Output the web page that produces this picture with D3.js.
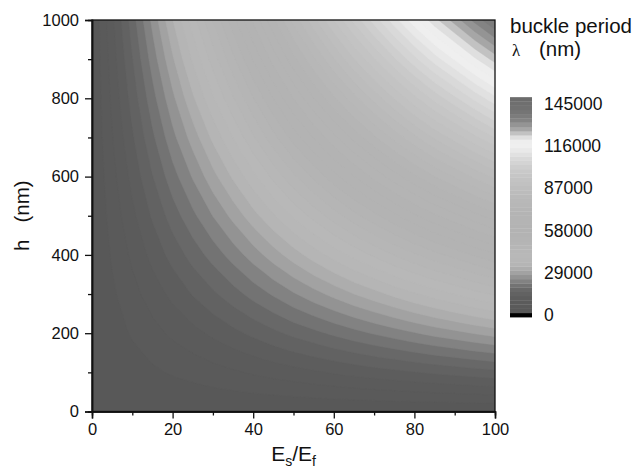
<!DOCTYPE html>
<html>
<head>
<meta charset="utf-8">
<script src="https://cdn.jsdelivr.net/npm/d3@7"></script>
<style>
body { margin: 0; background: #fff; }
text { font-family: "Liberation Sans", Arial, sans-serif; fill: #111; }
</style>
</head>
<body>
<script>
// grid columns (Es/Ef) and rows (film thickness h, nm)
var esRatio = [0, 5, 10, 15, 20, 25, 30, 35, 40, 45, 50, 55, 60, 65, 70, 75, 80, 85, 90, 95, 100];
var thickness = [0, 100, 200, 300, 400, 500, 600, 700, 800, 900, 1000];

// buckle period lambda (nm), one row per thickness
var period = [
    [0, 0, 0, 0, 0, 0, 0, 0, 0, 0, 0, 0, 0, 0, 0, 0, 0, 0, 0, 0, 0],
    [0, 800, 1600, 2400, 3200, 3900, 4700, 5400, 6200, 6900, 7600, 8300, 9000, 9700, 10300, 10900, 11500, 12100, 12600, 13200, 13700],
    [0, 1600, 3200, 4800, 6400, 7800, 9300, 10800, 12300, 13800, 15300, 16600, 18000, 19300, 20600, 21800, 23000, 24200, 25200, 26300, 27300],
    [0, 2400, 4800, 7200, 9500, 11800, 14000, 16200, 18500, 20700, 22900, 25000, 27000, 29000, 30800, 32700, 34500, 36200, 37800, 39500, 41000],
    [0, 3200, 6400, 9600, 12700, 15700, 18600, 21600, 24600, 27600, 30500, 33300, 36000, 38600, 41100, 43600, 46000, 48300, 50400, 52600, 54700],
    [0, 4000, 8000, 12000, 15900, 19600, 23300, 27000, 30800, 34500, 38200, 41600, 45000, 48300, 51400, 54500, 57500, 60400, 63000, 65800, 68400],
    [0, 4800, 9600, 14400, 19100, 23500, 28000, 32400, 36900, 41400, 45800, 49900, 54000, 57900, 61700, 65400, 69000, 72500, 75600, 78900, 82000],
    [0, 5600, 11200, 16800, 22300, 27400, 32600, 37800, 43100, 48300, 53400, 58200, 63000, 67600, 72000, 76300, 80500, 84600, 88200, 92100, 95700],
    [0, 6400, 12800, 19200, 25400, 31400, 37300, 43200, 49200, 55200, 61000, 66600, 72000, 77200, 82200, 87200, 92000, 96600, 100800, 105200, 109400],
    [0, 7200, 14400, 21600, 28600, 35300, 41900, 48600, 55400, 62100, 68700, 74900, 81000, 86900, 92500, 98100, 103500, 108700, 113400, 118400, 123000],
    [0, 8000, 16000, 24000, 31800, 39200, 46600, 54000, 61500, 69000, 76300, 83200, 90000, 96500, 102800, 109000, 115000, 120800, 126000, 131500, 136700]
];

// contour levels and colour bar
var levelStep = 2900;
var levelTop = 147900;
var legendTicks = [0, 29000, 58000, 87000, 116000, 145000];
var grayStops = [0, 2900, 12000, 17000, 21000, 25000, 28000, 31000, 35000, 42000, 55000, 70000, 85000, 98000, 108000, 114000, 118000, 122000, 127000, 133000, 140000, 148000];
var grayLevels = [0, 88, 93, 102, 118, 140, 158, 170, 182, 184, 179, 180, 188, 200, 218, 236, 242, 222, 170, 132, 115, 108];

var xTicks = [0, 20, 40, 60, 80, 100];
var xMinor = [10, 30, 50, 70, 90];
var yTicks = [0, 200, 400, 600, 800, 1000];
var yMinor = [100, 300, 500, 700, 900];

var W = 642, H = 473;
var plotL = 92, plotR = 495, plotT = 20, plotB = 411.5;

var svg = d3.select("body").append("svg")
    .attr("width", W)
    .attr("height", H);

var x = d3.scaleLinear().domain([0, 100]).range([plotL, plotR]);
var y = d3.scaleLinear().domain([0, 1000]).range([plotB, plotT]);

var grayScale = d3.scaleLinear().domain(grayStops).range(grayLevels).clamp(true);
function color(v) {
    var g = Math.round(grayScale(v));
    return d3.rgb(g, g, g).toString();
}

// contour bands
var values = [];
period.forEach(function (row) {
    row.forEach(function (v) { values.push(v); });
});

var thresholds = d3.range(0, 145000, levelStep);
var contours = d3.contours()
    .size([esRatio.length, thickness.length])
    .thresholds(thresholds)(values);

var dx = esRatio[1] - esRatio[0];
var dy = thickness[1] - thickness[0];
var grid = d3.geoTransform({
    point: function (px, py) {
        this.stream.point(x(esRatio[0] + (px - 0.5) * dx), y(thickness[0] + (py - 0.5) * dy));
    }
});
var path = d3.geoPath(grid);

svg.append("clipPath")
    .attr("id", "plotclip")
    .append("rect")
    .attr("x", plotL)
    .attr("y", plotT)
    .attr("width", plotR - plotL)
    .attr("height", plotB - plotT);

svg.append("g")
    .attr("clip-path", "url(#plotclip)")
    .selectAll("path")
    .data(contours)
    .enter().append("path")
    .attr("d", path)
    .attr("fill", function (d) { return color(d.value + levelStep); })
    .attr("stroke", function (d) { return color(d.value + levelStep); })
    .attr("stroke-width", 0.4);

// frame
svg.append("rect")
    .attr("x", plotL)
    .attr("y", plotT)
    .attr("width", plotR - plotL)
    .attr("height", plotB - plotT)
    .attr("fill", "none")
    .attr("stroke", "#111")
    .attr("stroke-width", 1.3);

// axes
function styleAxis(g) {
    g.attr("font-family", null).attr("font-size", null);
    g.select(".domain").attr("stroke", "#111").attr("stroke-width", 1.5);
    g.selectAll(".tick line").attr("stroke", "#111").attr("stroke-width", 1.3);
    g.selectAll(".tick text").style("font-size", "16.5px").attr("fill", "#111");
}

svg.append("g")
    .attr("transform", "translate(0," + plotB + ")")
    .call(d3.axisBottom(x).tickValues(xMinor).tickSize(4).tickFormat(""))
    .call(styleAxis);
svg.append("g")
    .attr("transform", "translate(0," + plotB + ")")
    .call(d3.axisBottom(x).tickValues(xTicks).tickSize(7).tickPadding(5).tickFormat(d3.format("d")))
    .call(styleAxis);

svg.append("g")
    .attr("transform", "translate(" + plotL + ",0)")
    .call(d3.axisLeft(y).tickValues(yMinor).tickSize(4).tickFormat(""))
    .call(styleAxis);
svg.append("g")
    .attr("transform", "translate(" + plotL + ",0)")
    .call(d3.axisLeft(y).tickValues(yTicks).tickSize(7).tickPadding(6).tickFormat(d3.format("d")))
    .call(styleAxis);

// axis titles
var xt = svg.append("text")
    .attr("x", (plotL + plotR) / 2)
    .attr("y", 461)
    .attr("text-anchor", "middle")
    .style("font-size", "21px");
xt.append("tspan").text("E");
xt.append("tspan").attr("dy", 5).style("font-size", "14px").text("s");
xt.append("tspan").attr("dy", -5).text("/E");
xt.append("tspan").attr("dy", 5).style("font-size", "14px").text("f");

svg.append("text")
    .attr("transform", "translate(29," + ((plotT + plotB) / 2) + ") rotate(-90)")
    .attr("text-anchor", "middle")
    .style("font-size", "20.5px")
    .style("white-space", "pre")
    .text("h   (nm)");

// colour bar legend
var barX = 510, barW = 22;
var ly = d3.scaleLinear().domain([0, 145000]).range([315, 103.5]);
var bandH = ly(0) - ly(levelStep);

svg.append("text")
    .attr("x", 510)
    .attr("y", 33)
    .style("font-size", "20.5px")
    .text("buckle period");
svg.append("text")
    .attr("x", 512)
    .attr("y", 56)
    .style("font-family", "'Liberation Serif', 'DejaVu Serif', serif")
    .style("font-size", "17px")
    .text("λ");
svg.append("text")
    .attr("x", 539)
    .attr("y", 56)
    .style("font-size", "20.5px")
    .text("(nm)");

svg.append("g")
    .selectAll("rect")
    .data(d3.range(0, levelTop + 1, levelStep))
    .enter().append("rect")
    .attr("x", barX)
    .attr("y", function (d) { return ly(d) - bandH / 2; })
    .attr("width", barW)
    .attr("height", bandH + 0.3)
    .attr("fill", function (d) { return color(d); });

svg.append("g")
    .selectAll("text")
    .data(legendTicks)
    .enter().append("text")
    .attr("x", 544)
    .attr("y", function (d) { return ly(d); })
    .attr("dy", "0.35em")
    .style("font-size", "17.5px")
    .text(function (d) { return d; });
</script>
</body>
</html>
